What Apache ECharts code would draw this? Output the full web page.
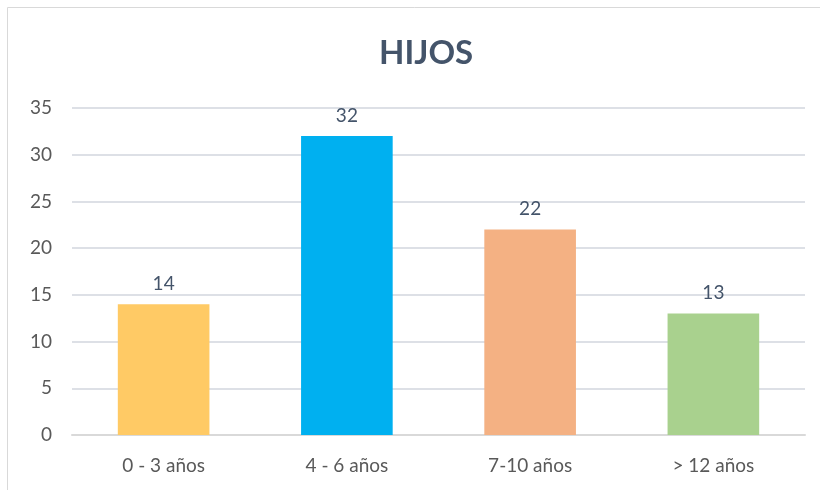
<!DOCTYPE html>
<html>
<head>
<meta charset="utf-8">
<script src="https://cdn.jsdelivr.net/npm/echarts@6/dist/echarts.min.js"></script>
<style>
  html, body {margin: 0; padding: 0; background: #fff;}
  #chart {width: 820px; height: 490px;}
</style>
</head>
<body>
<div id="chart"></div>
<script>
const categories = ['0 - 3 años', '4 - 6 años', '7-10 años', '> 12 años']
const values = [14, 32, 22, 13]
const barColors = ['#FFCA65', '#00B0F0', '#F4B183', '#A9D18E']

const chart = echarts.init(document.getElementById('chart'))
chart.setOption({
  animation: false,
  textStyle: {fontFamily: 'Lato'},
  title: {
    text: 'HIJOS',
    left: 374,
    top: 32,
    textStyle: {fontSize: 33, fontWeight: 'bold', color: '#44546A', fontFamily: 'Lato'}
  },
  graphic: [{
    type: 'rect',
    shape: {x: 7.5, y: 7.5, width: 830, height: 500},
    style: {fill: 'none', stroke: '#D9D9D9', lineWidth: 1},
    silent: true
  }],
  grid: {left: 72, right: 15, top: 108, bottom: 55},
  xAxis: {
    type: 'category',
    data: categories,
    axisLine: {lineStyle: {color: '#D9D9D9', width: 2}},
    axisTick: {show: false},
    axisLabel: {color: '#595959', fontSize: 19, margin: 21}
  },
  yAxis: {
    type: 'value',
    min: 0,
    max: 35,
    interval: 5,
    axisLine: {show: false},
    axisTick: {show: false},
    splitLine: {lineStyle: {color: '#DDE0E6', width: 2}},
    axisLabel: {color: '#595959', fontSize: 19, margin: 20}
  },
  series: [{
    type: 'bar',
    barWidth: '50%',
    data: values.map((v, i) => ({value: v, itemStyle: {color: barColors[i]}})),
    label: {show: true, position: 'top', distance: 11, color: '#44546A', fontSize: 19}
  }]
})
</script>
</body>
</html>
